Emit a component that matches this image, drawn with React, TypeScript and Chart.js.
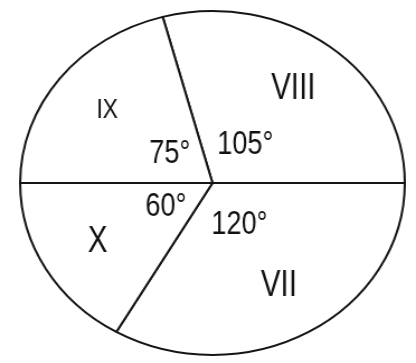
import React, { useEffect, useRef } from "react";
import { Chart, registerables } from "chart.js";

Chart.register(...registerables);

// Sectors listed clockwise, starting at the IX/VIII boundary line
const categories = ["VIII", "VII", "X", "IX"];
const degrees = [105, 120, 60, 75];
const degreeLabels = ["105°", "120°", "60°", "75°"];

const CSS_W = 416;
const CSS_H = 363;
const INNER_W = 372; // canvas is drawn narrower and stretched to make the hand-drawn oval
const SX = CSS_W / INNER_W;

const handLabels = {
  id: "handLabels",
  afterDatasetsDraw(chart: any) {
    const ctx = chart.ctx;
    const meta = chart.getDatasetMeta(0);
    meta.data.forEach((arc: any, i: number) => {
      const { x, y, startAngle, endAngle, outerRadius } = arc.getProps(
        ["x", "y", "startAngle", "endAngle", "outerRadius"],
        true
      );
      const mid = (startAngle + endAngle) / 2;
      const draw = (text: string, frac: number, size: number) => {
        const px = x + Math.cos(mid) * outerRadius * frac;
        const py = y + Math.sin(mid) * outerRadius * frac;
        ctx.save();
        ctx.translate(px, py);
        ctx.scale(0.82 / SX, 1);
        ctx.font = `${size}px "Liberation Sans", "DejaVu Sans", sans-serif`;
        ctx.textAlign = "center";
        ctx.textBaseline = "middle";
        ctx.fillStyle = "#111";
        ctx.fillText(text, 0, 0);
        ctx.restore();
      };
      draw(categories[i], 0.69, categories[i] === "IX" ? 28 : 36);
      draw(degreeLabels[i], 0.28, 33);
    });
  },
};

export default function App() {
  const ref = useRef<HTMLCanvasElement | null>(null);

  useEffect(() => {
    if (!ref.current) return;
    const chart = new Chart(ref.current, {
      type: "pie",
      data: {
        labels: categories,
        datasets: [
          {
            data: degrees,
            backgroundColor: "#ffffff",
            borderColor: "#151515",
            borderWidth: 2,
            hoverOffset: 0,
          },
        ],
      },
      options: {
        responsive: false,
        animation: false,
        rotation: -15,
        layout: { padding: { top: 10, bottom: 7, left: 17, right: 9 } },
        plugins: {
          legend: { display: false },
          tooltip: { enabled: false },
        },
      },
      plugins: [handLabels],
    });
    return () => chart.destroy();
  }, []);

  return (
    <div style={{ position: "fixed", left: 0, top: 0, width: CSS_W, height: CSS_H, background: "#fff" }}>
      <canvas
        ref={ref}
        width={INNER_W}
        height={CSS_H}
        style={{ width: `${CSS_W}px`, height: `${CSS_H}px`, display: "block" }}
      />
    </div>
  );
}
